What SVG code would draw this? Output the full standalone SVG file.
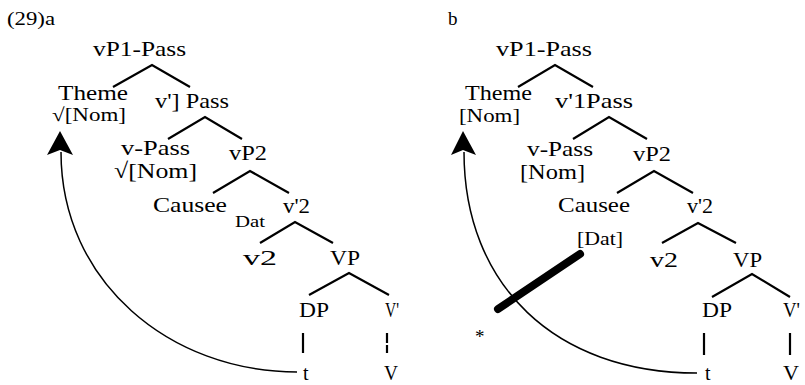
<svg xmlns="http://www.w3.org/2000/svg" width="805" height="385" viewBox="0 0 805 385">
<style>
text{font-family:"Liberation Serif","Times New Roman",serif;fill:#000;font-size:22px}
.s{font-size:19px}
.xs{font-size:16px}
.br{stroke:#000;stroke-width:2.2;fill:none}
.arc{stroke:#000;stroke-width:1.5;fill:none}
</style>
<rect width="805" height="385" fill="#fff"/>
<text x="7" y="25" class="s" textLength="48" lengthAdjust="spacingAndGlyphs">(29)a</text>
<text x="448" y="25" class="s">b</text>
<g id="connectors">
<polyline class="br" points="113,87 152,65 190,87"/>
<polyline class="br" points="168,139 205,117 242,139"/>
<polyline class="br" points="213,193 250,171 289,193"/>
<polyline class="br" points="260,243 295,222 333,243"/>
<polyline class="br" points="309,295 349,273 389,295"/>
<line class="br" x1="303" y1="333" x2="303" y2="353" stroke-width="1.4"/>
<line class="br" x1="387" y1="333" x2="387" y2="353" stroke-width="1.3" stroke-dasharray="10,2,10"/>
<path class="arc" d="M297,372 C170,372 61,282 61,152"/>
<polygon points="60,131 47,155 60,150 73,155" fill="#000"/>
<polyline class="br" points="518,87 555,65 593,87"/>
<polyline class="br" points="573,139 609,117 647,139"/>
<polyline class="br" points="617,193 654,171 693,193"/>
<polyline class="br" points="662,243 698,223 736,243"/>
<polyline class="br" points="712,297 752,274 790,297"/>
<line class="br" x1="704" y1="333" x2="704" y2="355" stroke-width="1.4"/>
<line class="br" x1="790" y1="333" x2="790" y2="355" stroke-width="1.4"/>
<path class="arc" d="M697,373 C555,373 464,285 464,152"/>
<polygon points="463,131 451,155 463,150 476,155" fill="#000"/>
<line x1="498" y1="309" x2="580" y2="254" stroke="#000" stroke-width="8" stroke-linecap="round"/>
</g>
<g id="a-vP1"><text x="93" y="56" textLength="93" lengthAdjust="spacingAndGlyphs">vP1-Pass</text></g>
<g id="a-theme"><text x="58" y="100" textLength="70" lengthAdjust="spacingAndGlyphs">Theme</text><text x="52" y="121" class="s" textLength="74" lengthAdjust="spacingAndGlyphs">√[Nom]</text></g>
<g id="a-v1"><text x="155" y="108" textLength="74" lengthAdjust="spacingAndGlyphs">v'] Pass</text></g>
<g id="a-vpass"><text x="121" y="155" textLength="69" lengthAdjust="spacingAndGlyphs">v-Pass</text><text x="114" y="178" textLength="83" lengthAdjust="spacingAndGlyphs">√[Nom]</text></g>
<g id="a-vP2"><text x="229" y="160" textLength="38" lengthAdjust="spacingAndGlyphs">vP2</text></g>
<g id="a-causee"><text x="153" y="212" textLength="74" lengthAdjust="spacingAndGlyphs">Causee</text><text x="235" y="227" class="xs" textLength="30" lengthAdjust="spacingAndGlyphs">Dat</text></g>
<g id="a-v2bar"><text x="283" y="213" textLength="27" lengthAdjust="spacingAndGlyphs">v'2</text></g>
<g id="a-v2"><text x="243" y="265" textLength="34" lengthAdjust="spacingAndGlyphs">v2</text></g>
<g id="a-VP"><text x="330" y="265" textLength="30" lengthAdjust="spacingAndGlyphs">VP</text></g>
<g id="a-DP"><text x="299" y="317" textLength="30" lengthAdjust="spacingAndGlyphs">DP</text></g>
<g id="a-Vbar"><text x="385" y="317" textLength="14" lengthAdjust="spacingAndGlyphs">V'</text></g>
<g id="a-t"><text x="303" y="380" style="font-size:20px">t</text></g>
<g id="a-V"><text x="384" y="380" style="font-size:20px" textLength="14" lengthAdjust="spacingAndGlyphs">V</text></g>
<g id="b-vP1"><text x="496" y="56" textLength="96" lengthAdjust="spacingAndGlyphs">vP1-Pass</text></g>
<g id="b-theme"><text x="465" y="100" textLength="67" lengthAdjust="spacingAndGlyphs">Theme</text><text x="459" y="122" class="s" textLength="61" lengthAdjust="spacingAndGlyphs">[Nom]</text></g>
<g id="b-v1"><text x="555" y="108" textLength="78" lengthAdjust="spacingAndGlyphs">v'1Pass</text></g>
<g id="b-vpass"><text x="527" y="156" textLength="66" lengthAdjust="spacingAndGlyphs">v-Pass</text><text x="520" y="179" textLength="65" lengthAdjust="spacingAndGlyphs">[Nom]</text></g>
<g id="b-vP2"><text x="633" y="161" textLength="38" lengthAdjust="spacingAndGlyphs">vP2</text></g>
<g id="b-causee"><text x="558" y="212" textLength="72" lengthAdjust="spacingAndGlyphs">Causee</text><text x="577" y="245" class="s" textLength="46" lengthAdjust="spacingAndGlyphs">[Dat]</text></g>
<g id="b-v2bar"><text x="687" y="213" textLength="26" lengthAdjust="spacingAndGlyphs">v'2</text></g>
<g id="b-v2"><text x="650" y="267" textLength="28" lengthAdjust="spacingAndGlyphs">v2</text></g>
<g id="b-VP"><text x="733" y="267" textLength="29" lengthAdjust="spacingAndGlyphs">VP</text></g>
<g id="b-DP"><text x="702" y="317" textLength="30" lengthAdjust="spacingAndGlyphs">DP</text></g>
<g id="b-Vbar"><text x="783" y="317" textLength="17" lengthAdjust="spacingAndGlyphs">V'</text></g>
<g id="b-t"><text x="705" y="380" style="font-size:20px">t</text></g>
<g id="b-V"><text x="783" y="380" style="font-size:20px" textLength="16" lengthAdjust="spacingAndGlyphs">V</text></g>
<g id="b-star"><text x="475" y="343" style="font-size:19px">*</text></g>
</svg>
